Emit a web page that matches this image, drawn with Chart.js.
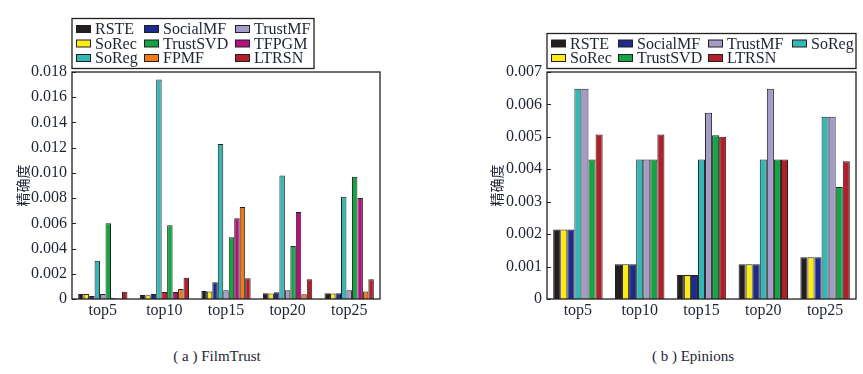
<!DOCTYPE html>
<html>
<head>
<meta charset="utf-8">
<script src="https://cdn.jsdelivr.net/npm/chart.js@4.4.1/dist/chart.umd.min.js"></script>
<style>
  body { margin: 0; background: #fff; width: 863px; height: 374px; position: relative; overflow: hidden; }
  canvas { position: absolute; top: 0; }
  #left { left: 0; }
  #right { left: 430px; }
  .cap { position: absolute; top: 348px; font: 15px "Liberation Serif", "Times New Roman", serif; color: #1e2436; white-space: nowrap; transform: translateX(-50%); }
</style>
</head>
<body>
<canvas id="left" width="430" height="330"></canvas>
<canvas id="right" width="433" height="330"></canvas>
<div class="cap" style="left:217px">( a ) FilmTrust</div>
<div class="cap" style="left:693px">( b ) Epinions</div>
<script>
const categories = ['top5', 'top10', 'top15', 'top20', 'top25'];

// (a) FilmTrust
const ftRSTE = [0.0004, 0.00032, 0.00064, 0.00045, 0.00045];
const ftSoRec = [0.0004, 0.0003, 0.00059, 0.00043, 0.00043];
const ftSocialMF = [0.00024, 0.0004, 0.00133, 0.00053, 0.00045];
const ftSoReg = [0.00304, 0.0174, 0.0123, 0.0098, 0.0081];
const ftTrustMF = [0.0004, 0.00056, 0.00069, 0.00069, 0.00069];
const ftTrustSVD = [0.006, 0.00584, 0.0049, 0.0042, 0.0097];
const ftTFPGM = [0.00008, 0.00056, 0.0064, 0.0069, 0.008];
const ftFPMF = [0.00003, 0.0008, 0.0073, 0.00037, 0.0006];
const ftLTRSN = [0.00058, 0.00168, 0.00165, 0.00157, 0.00157];
const ftTicks = [0, 0.002, 0.004, 0.006, 0.008, 0.010, 0.012, 0.014, 0.016, 0.018];

// (b) Epinions
const epRSTE = [0.00214, 0.00107, 0.00074, 0.00107, 0.00129];
const epSoRec = [0.00214, 0.00107, 0.00074, 0.00107, 0.00129];
const epSocialMF = [0.00214, 0.00107, 0.00074, 0.00107, 0.00129];
const epSoReg = [0.00648, 0.0043, 0.0043, 0.0043, 0.00562];
const epTrustMF = [0.00648, 0.0043, 0.00574, 0.00648, 0.00562];
const epTrustSVD = [0.0043, 0.0043, 0.00505, 0.0043, 0.00345];
const epLTRSN = [0.00507, 0.00507, 0.005, 0.0043, 0.00425];
const epTicks = [0, 0.001, 0.002, 0.003, 0.004, 0.005, 0.006, 0.007];

const colors = {
  RSTE: '#231f20',
  SoRec: '#fbec18',
  SocialMF: '#1d2b8c',
  SoReg: '#33b8b5',
  TrustMF: '#a59bc9',
  TrustSVD: '#13a444',
  TFPGM: '#b3117f',
  FPMF: '#f07a16',
  LTRSN: '#b01f2a'
};
const textColor = '#1e2436';
const serif = '"Liberation Serif", "Times New Roman", serif';

function ds(label, data, color) {
  return {
    label,
    data,
    backgroundColor: color || colors[label],
    borderColor: '#231f20',
    borderWidth: 1,
    barPercentage: 1,
    categoryPercentage: 0.8
  };
}

// frame, inward y ticks and a boxed legend laid out in columns
const framePlugin = {
  id: 'frame',
  afterDraw(chart, args, opts) {
    const ctx = chart.ctx;
    const a = chart.chartArea;
    const y = chart.scales.y;
    ctx.save();
    ctx.strokeStyle = '#231f20';
    ctx.lineWidth = 1.3;
    ctx.strokeRect(a.left, a.top, a.right - a.left, a.bottom - a.top);
    ctx.lineWidth = 1;
    y.ticks.forEach(t => {
      const py = Math.round(y.getPixelForValue(t.value)) + 0.5;
      ctx.beginPath();
      ctx.moveTo(a.left, py);
      ctx.lineTo(a.left + 4, py);
      ctx.stroke();
    });

    const lg = opts.legend;
    ctx.lineWidth = 1.3;
    ctx.strokeRect(lg.box[0], lg.box[1], lg.box[2], lg.box[3]);
    ctx.font = '16px ' + serif;
    ctx.textBaseline = 'middle';
    lg.items.forEach(it => {
      const d = chart.data.datasets.find(x => x.label === it.label);
      ctx.fillStyle = colors[d.label];
      ctx.fillRect(it.x, it.y - 3.5, 15, 7);
      ctx.lineWidth = 1;
      ctx.strokeRect(it.x + 0.5, it.y - 3.5, 14, 7);
      ctx.fillStyle = textColor;
      ctx.fillText(d.label, it.x + 19, it.y + 1);
    });
    ctx.restore();
  }
};

function makeChart(canvas, datasets, ticks, yMax, step, pad, yWidth, titlePad, legend) {
  return new Chart(canvas, {
    type: 'bar',
    data: { labels: categories, datasets },
    plugins: [framePlugin],
    options: {
      responsive: false,
      animation: false,
      layout: { padding: pad },
      plugins: {
        legend: { display: false },
        tooltip: { enabled: false },
        frame: { legend }
      },
      scales: {
        x: {
          grid: { display: false, drawTicks: false },
          border: { display: false },
          ticks: { color: textColor, font: { family: serif, size: 16 }, padding: 2 },
          afterFit: s => { s.height = 31; }
        },
        y: {
          min: 0,
          max: yMax,
          grid: { display: false, drawTicks: false },
          border: { display: false },
          afterBuildTicks: s => { s.ticks = ticks.map(v => ({ value: v })); },
          ticks: {
            color: textColor,
            padding: 5,
            stepSize: step,
            font: { family: serif, size: 16 },
            callback: v => v === 0 ? '0' : v.toFixed(3)
          },
          title: {
            display: true,
            text: '精确度',
            color: textColor,
            font: { family: '"Noto Sans CJK SC", sans-serif', size: 14 },
            padding: { top: titlePad, bottom: 0 }
          },
          afterFit: s => { s.width = yWidth; }
        }
      }
    }
  });
}

makeChart(
  document.getElementById('left'),
  [
    ds('RSTE', ftRSTE),
    ds('SoRec', ftSoRec),
    ds('SocialMF', ftSocialMF),
    ds('SoReg', ftSoReg),
    ds('TrustMF', ftTrustMF, [colors.TrustMF, '#e5171f', colors.TrustMF, colors.TrustMF, colors.TrustMF]),
    ds('TrustSVD', ftTrustSVD),
    ds('TFPGM', ftTFPGM),
    ds('FPMF', ftFPMF),
    ds('LTRSN', ftLTRSN)
  ],
  ftTicks, 0.018, 0.002,
  { left: 0, top: 72, right: 50, bottom: 0 }, 72, 14,
  {
    box: [72, 18.5, 242, 50],
    items: [
      { label: 'RSTE', x: 76, y: 29 },
      { label: 'SoRec', x: 76, y: 43.5 },
      { label: 'SoReg', x: 76, y: 58 },
      { label: 'SocialMF', x: 144, y: 29 },
      { label: 'TrustSVD', x: 144, y: 43.5 },
      { label: 'FPMF', x: 144, y: 58 },
      { label: 'TrustMF', x: 235, y: 29 },
      { label: 'TFPGM', x: 235, y: 43.5 },
      { label: 'LTRSN', x: 235, y: 58 }
    ]
  }
);

makeChart(
  document.getElementById('right'),
  [
    ds('RSTE', epRSTE),
    ds('SoRec', epSoRec),
    ds('SocialMF', epSocialMF),
    ds('SoReg', epSoReg),
    ds('TrustMF', epTrustMF),
    ds('TrustSVD', epTrustSVD),
    ds('LTRSN', epLTRSN)
  ],
  epTicks, 0.007, 0.001,
  { left: 0, top: 72, right: 7, bottom: 0 }, 117, 58,
  {
    box: [117, 33.5, 309, 35],
    items: [
      { label: 'RSTE', x: 121, y: 43.5 },
      { label: 'SoRec', x: 121, y: 58 },
      { label: 'SocialMF', x: 188, y: 43.5 },
      { label: 'TrustSVD', x: 188, y: 58 },
      { label: 'TrustMF', x: 278, y: 43.5 },
      { label: 'LTRSN', x: 278, y: 58 },
      { label: 'SoReg', x: 362, y: 43.5 }
    ]
  }
);
</script>
</body>
</html>
